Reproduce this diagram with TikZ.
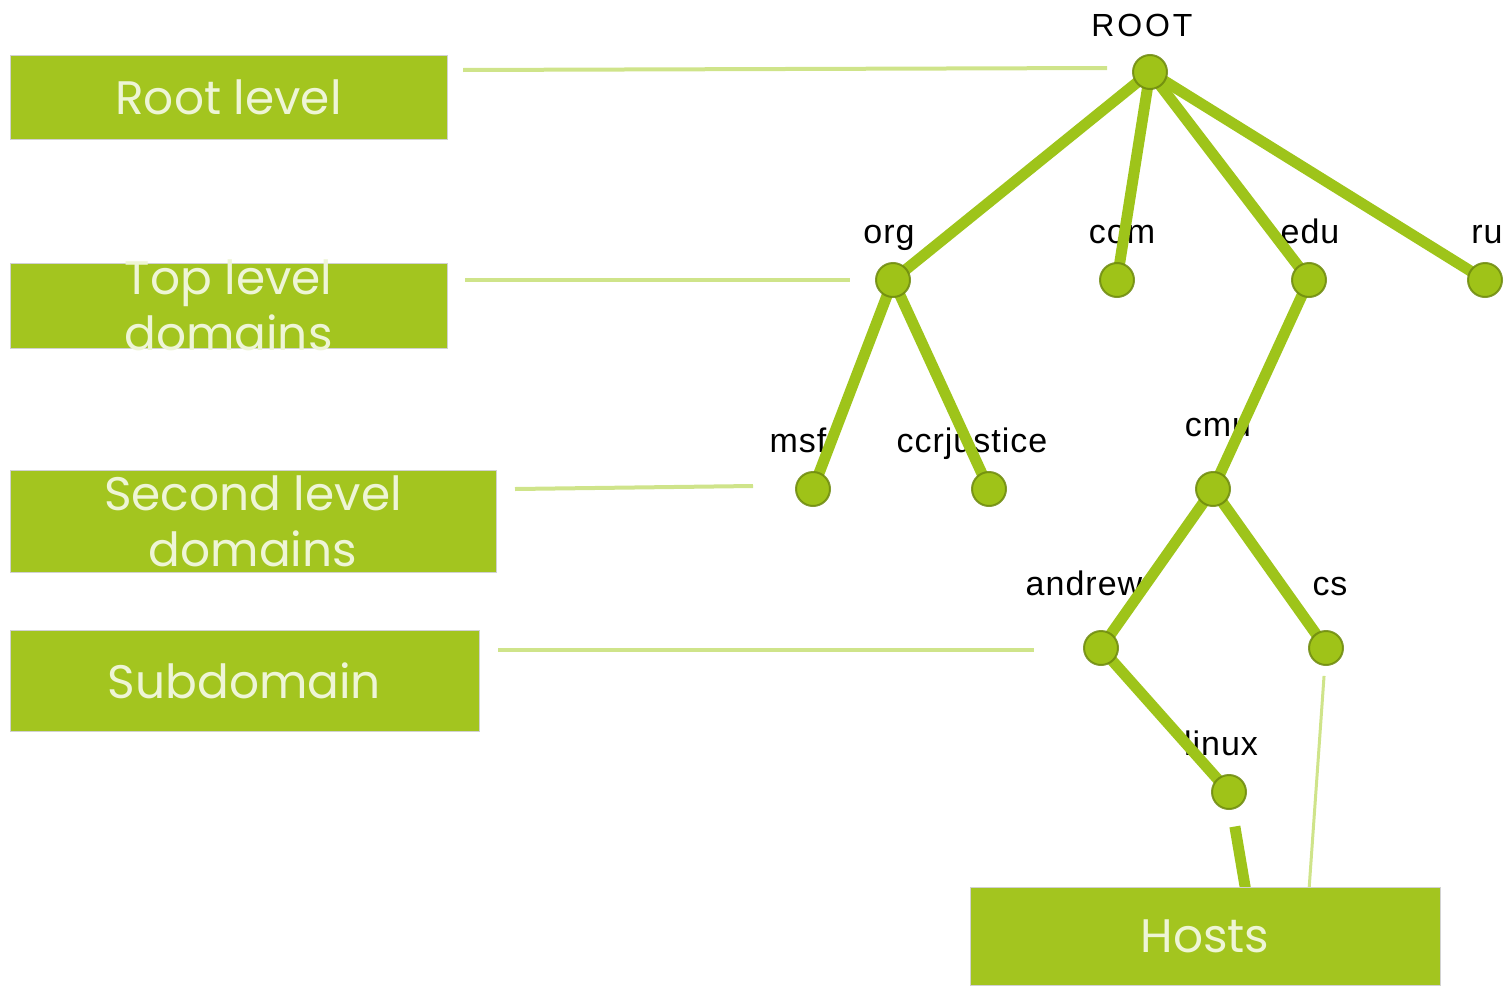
\documentclass[tikz,border=0pt]{standalone}
\usepackage{fontspec}
\setmainfont{Liberation Sans}
\newfontfamily\lblfont{Liberation Sans}[LetterSpace=3]
\newfontfamily\capsfont{Liberation Sans}[LetterSpace=9]
\newfontfamily\boxfont{Poppins}
\usetikzlibrary{backgrounds}
\definecolor{boxgreen}{HTML}{A3C51F}
\definecolor{linkgreen}{HTML}{9EC41A}
\definecolor{dotgreen}{HTML}{9FC318}
\definecolor{dotrim}{HTML}{6E8A0E}
\definecolor{guide}{HTML}{CFE48A}
\definecolor{boxtext}{HTML}{EEF5D6}
\begin{document}
\begin{tikzpicture}[x=1pt,y=-1pt,
  levelbox/.style={draw=black!18, line width=1pt, fill=boxgreen, inner sep=0pt},
  boxlabel/.style={text=boxtext, inner sep=0pt, align=center,
    font=\boxfont\fontsize{47}{56}\selectfont},
  dot/.style={circle, minimum size=34pt, inner sep=0pt, fill=dotgreen,
    draw=dotrim, draw opacity=0.85, line width=2pt},
  tag/.style={font=\lblfont\fontsize{34}{36}\selectfont, anchor=base, inner sep=0pt},
  link/.style={linkgreen, line width=11pt},
  guideline/.style={guide, line width=4pt}]
\useasboundingbox (0,0) rectangle (1504,985);

% level boxes on the left and the hosts box
\node[levelbox, minimum width=437pt, minimum height=84pt] (rootbox) at (228.5,97) {};
\node[levelbox, minimum width=437pt, minimum height=85pt] (tldbox) at (228.5,305.5) {};
\node[levelbox, minimum width=486pt, minimum height=102pt] (sldbox) at (253,521) {};
\node[levelbox, minimum width=469pt, minimum height=101pt] (subbox) at (244.5,680.5) {};
\node[levelbox, minimum width=470pt, minimum height=98pt] (hostbox) at (1205,936) {};

\node[boxlabel] (roottext) at (rootbox.center) {Root level};
\node[boxlabel] (tldtext) at (tldbox.center) {Top level\\domains};
\node[boxlabel] (sldtext) at (sldbox.center) {Second level\\domains};
\node[boxlabel] (subtext) at (subbox.center) {Subdomain};
\node[boxlabel] (hosttext) at (hostbox.center) {Hosts};

% tree nodes
\node[dot] (root) at (1150,72) {};
\node[dot] (org) at (893,280) {};
\node[dot] (com) at (1117,280) {};
\node[dot] (edu) at (1309,280) {};
\node[dot] (ru) at (1485,280) {};
\node[dot] (msf) at (813,489) {};
\node[dot] (ccr) at (989,489) {};
\node[dot] (cmu) at (1213,489) {};
\node[dot] (andrew) at (1101,648) {};
\node[dot] (cs) at (1326,648) {};
\node[dot] (linux) at (1229,792) {};

% guide line end points
\coordinate (g1a) at (463,70);   \coordinate (g1b) at (1107,68);
\coordinate (g2a) at (465,280);  \coordinate (g2b) at (850,280);
\coordinate (g3a) at (515,489);  \coordinate (g3b) at (753,486);
\coordinate (g4a) at (498,650);  \coordinate (g4b) at (1034,650);
\coordinate (hA) at (1246,892);
\coordinate (hB) at (1309,890);

\begin{scope}[on background layer]
  % domain names
  \node[tag, font=\capsfont\fontsize{32}{34}\selectfont] (lroot) at (1142,36) {ROOT};
  \node[tag] (lorg) at (889,243) {org};
  \node[tag] (lcom) at (1122,243) {com};
  \node[tag] (ledu) at (1310,243) {edu};
  \node[tag] (lru) at (1487,243) {ru};
  \node[tag] (lmsf) at (798,452) {msf};
  \node[tag] (lccr) at (972,452) {ccrjustice};
  \node[tag] (lcmu) at (1218,436) {cmu};
  \node[tag] (landrew) at (1084,595) {andrew};
  \node[tag] (lcs) at (1330,595) {cs};
  \node[tag] (llinux) at (1221,755) {linux};

  % tree edges
  \draw[link] (root.center) -- (org.center);
  \draw[link] (root.center) -- (com.center);
  \draw[link] (root.center) -- (edu.center);
  \draw[link] (root.center) -- (ru.center);
  \draw[link] (org.center) -- (msf.center);
  \draw[link] (org.center) -- (ccr.center);
  \draw[link] (edu.center) -- (cmu.center);
  \draw[link] (cmu.center) -- (andrew.center);
  \draw[link] (cmu.center) -- (cs.center);
  \draw[link] (andrew.center) -- (linux.center);
  \draw[link, shorten <=35pt] (linux.center) -- (hA);
  \draw[guide, line width=3pt, shorten <=28pt] (cs.center) -- (hB);

  % level guide lines
  \draw[guideline] (g1a) -- (g1b);
  \draw[guideline] (g2a) -- (g2b);
  \draw[guideline] (g3a) -- (g3b);
  \draw[guideline] (g4a) -- (g4b);
\end{scope}
\end{tikzpicture}
\end{document}
